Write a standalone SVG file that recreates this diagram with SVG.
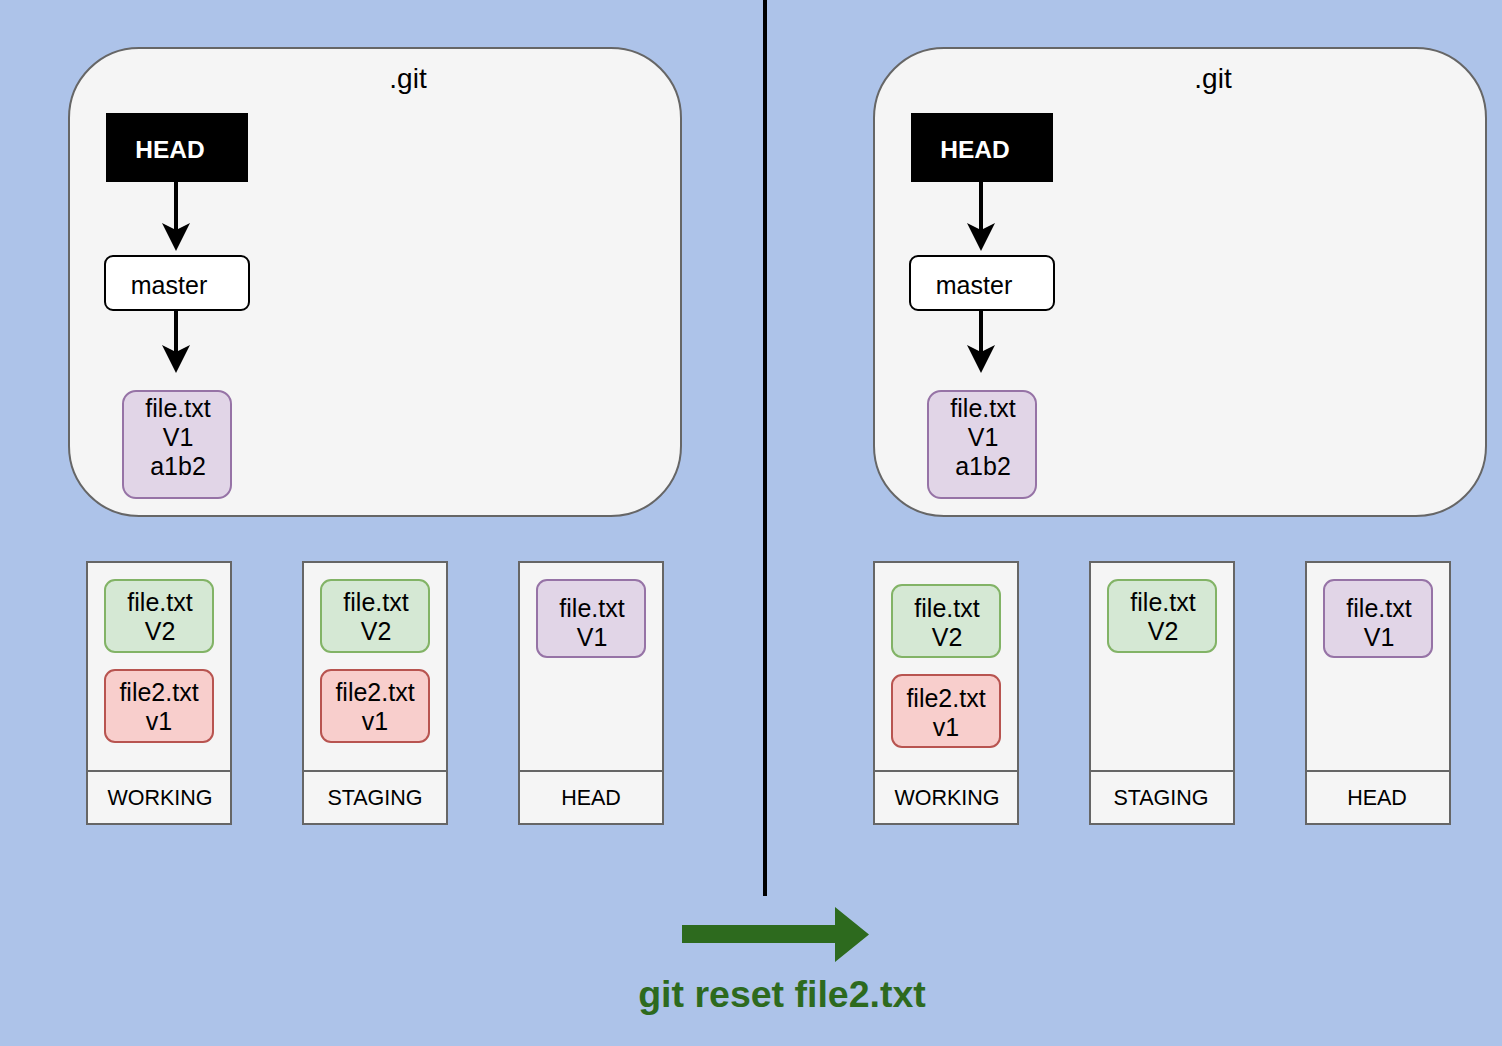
<svg xmlns="http://www.w3.org/2000/svg" width="1502" height="1046" viewBox="0 0 1502 1046">
<defs>
<style>
text{font-family:"Liberation Sans",Arial,sans-serif;fill:#000;text-anchor:middle;dominant-baseline:central}
.git{fill:#f5f5f5;stroke:#666;stroke-width:2}
.head{fill:#000}
.headt{fill:#fff;font-weight:bold;font-size:24.5px}
.master{fill:#fff;stroke:#000;stroke-width:2}
.purple{fill:#e1d5e7;stroke:#9673a6;stroke-width:2}
.green{fill:#d5e8d4;stroke:#82b366;stroke-width:2}
.red{fill:#f8cecc;stroke:#b85450;stroke-width:2}
.area{fill:#f5f5f5;stroke:#666;stroke-width:2}
.f{font-size:25px}
.lbl{font-size:21.5px}
.conn{stroke:#000;stroke-width:4;fill:none}
</style>
<marker id="ah" viewBox="0 0 28 28" refX="8" refY="14" markerWidth="28" markerHeight="28" markerUnits="userSpaceOnUse" orient="auto">
<path d="M0,0 L28,14 L0,28 L7,14 Z" fill="#000"/>
</marker>
</defs>
<rect width="1502" height="1046" fill="#adc3e9"/>

<!-- LEFT -->
<g id="git-left"><rect class="git" x="69" y="48" width="612" height="468" rx="70"/><text x="408" y="78" font-size="28">.git</text></g>
<g id="head-left"><rect class="head" x="106" y="113" width="142" height="69"/><text class="headt" x="170" y="149">HEAD</text></g>
<g id="master-left"><rect class="master" x="105" y="256" width="144" height="54" rx="8"/><text x="169" y="285" font-size="25">master</text></g>
<g id="commit-left"><rect class="purple" x="123" y="391" width="108" height="107" rx="13"/><text class="f" x="178" y="408">file.txt</text><text class="f" x="178" y="437">V1</text><text class="f" x="178" y="466">a1b2</text></g>

<g id="working-left"><rect class="area" x="87" y="562" width="144" height="262"/><line x1="87" y1="771" x2="231" y2="771" stroke="#666" stroke-width="2"/><text class="lbl" x="160" y="798">WORKING</text></g>
<g id="working-left-file"><rect class="green" x="105" y="580" width="108" height="72" rx="10"/><text class="f" x="160" y="602">file.txt</text><text class="f" x="160" y="631">V2</text></g>
<g id="working-left-file2"><rect class="red" x="105" y="670" width="108" height="72" rx="10"/><text class="f" x="159" y="692">file2.txt</text><text class="f" x="159" y="721">v1</text></g>

<g id="staging-left"><rect class="area" x="303" y="562" width="144" height="262"/><line x1="303" y1="771" x2="447" y2="771" stroke="#666" stroke-width="2"/><text class="lbl" x="375" y="798">STAGING</text></g>
<g id="staging-left-file"><rect class="green" x="321" y="580" width="108" height="72" rx="10"/><text class="f" x="376" y="602">file.txt</text><text class="f" x="376" y="631">V2</text></g>
<g id="staging-left-file2"><rect class="red" x="321" y="670" width="108" height="72" rx="10"/><text class="f" x="375" y="692">file2.txt</text><text class="f" x="375" y="721">v1</text></g>

<g id="headarea-left"><rect class="area" x="519" y="562" width="144" height="262"/><line x1="519" y1="771" x2="663" y2="771" stroke="#666" stroke-width="2"/><text class="lbl" x="591" y="798">HEAD</text></g>
<g id="headarea-left-file"><rect class="purple" x="537" y="580" width="108" height="77" rx="10"/><text class="f" x="592" y="608">file.txt</text><text class="f" x="592" y="637">V1</text></g>

<!-- RIGHT -->
<g id="git-right"><rect class="git" x="874" y="48" width="612" height="468" rx="70"/><text x="1213" y="78" font-size="28">.git</text></g>
<g id="head-right"><rect class="head" x="911" y="113" width="142" height="69"/><text class="headt" x="975" y="149">HEAD</text></g>
<g id="master-right"><rect class="master" x="910" y="256" width="144" height="54" rx="8"/><text x="974" y="285" font-size="25">master</text></g>
<g id="commit-right"><rect class="purple" x="928" y="391" width="108" height="107" rx="13"/><text class="f" x="983" y="408">file.txt</text><text class="f" x="983" y="437">V1</text><text class="f" x="983" y="466">a1b2</text></g>

<g id="working-right"><rect class="area" x="874" y="562" width="144" height="262"/><line x1="874" y1="771" x2="1018" y2="771" stroke="#666" stroke-width="2"/><text class="lbl" x="947" y="798">WORKING</text></g>
<g id="working-right-file"><rect class="green" x="892" y="585" width="108" height="72" rx="10"/><text class="f" x="947" y="608">file.txt</text><text class="f" x="947" y="637">V2</text></g>
<g id="working-right-file2"><rect class="red" x="892" y="675" width="108" height="72" rx="10"/><text class="f" x="946" y="698">file2.txt</text><text class="f" x="946" y="727">v1</text></g>

<g id="staging-right"><rect class="area" x="1090" y="562" width="144" height="262"/><line x1="1090" y1="771" x2="1234" y2="771" stroke="#666" stroke-width="2"/><text class="lbl" x="1161" y="798">STAGING</text></g>
<g id="staging-right-file"><rect class="green" x="1108" y="580" width="108" height="72" rx="10"/><text class="f" x="1163" y="602">file.txt</text><text class="f" x="1163" y="631">V2</text></g>

<g id="headarea-right"><rect class="area" x="1306" y="562" width="144" height="262"/><line x1="1306" y1="771" x2="1450" y2="771" stroke="#666" stroke-width="2"/><text class="lbl" x="1377" y="798">HEAD</text></g>
<g id="headarea-right-file"><rect class="purple" x="1324" y="580" width="108" height="77" rx="10"/><text class="f" x="1379" y="608">file.txt</text><text class="f" x="1379" y="637">V1</text></g>

<!-- divider -->
<line x1="765" y1="0" x2="765" y2="896" stroke="#000" stroke-width="4"/>

<g id="connectors">
<line class="conn" x1="176" y1="182" x2="176" y2="231" marker-end="url(#ah)"/>
<line class="conn" x1="176" y1="310" x2="176" y2="353" marker-end="url(#ah)"/>
<line class="conn" x1="981" y1="182" x2="981" y2="231" marker-end="url(#ah)"/>
<line class="conn" x1="981" y1="310" x2="981" y2="353" marker-end="url(#ah)"/>
</g>

<g id="reset-arrow">
<path d="M682,925 L835,925 L835,907 L869,934.5 L835,962 L835,943 L682,943 Z" fill="#2d6a1e"/>
<text x="782" y="994" font-size="37.5" font-weight="bold" style="fill:#2d6a1e">git reset file2.txt</text>
</g>
</svg>
